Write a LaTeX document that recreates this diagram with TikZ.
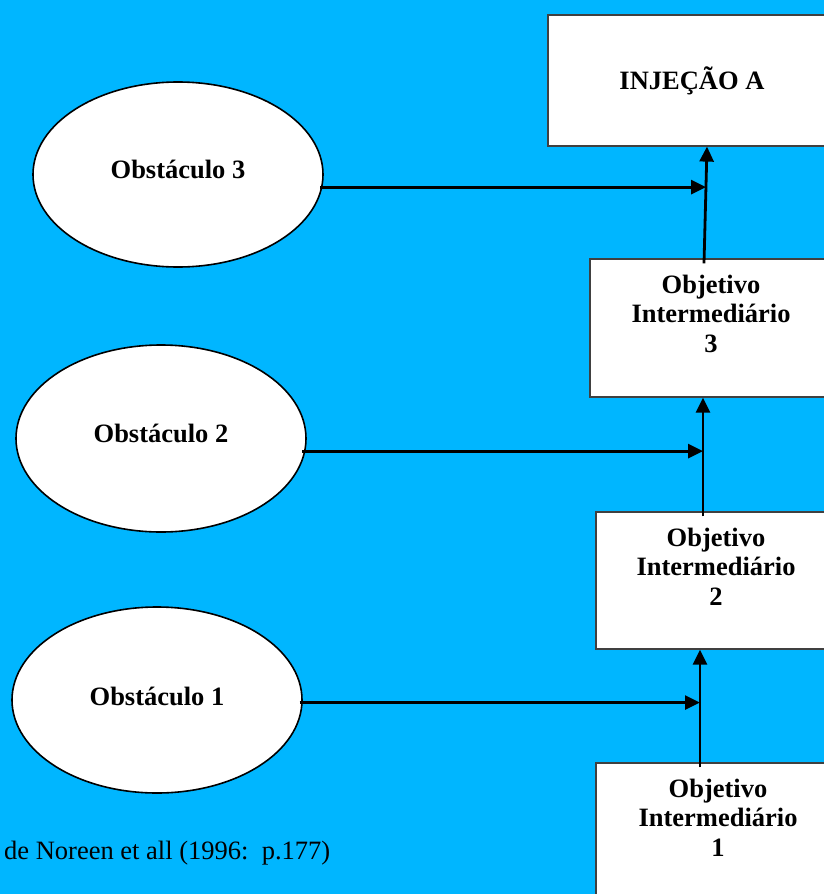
\documentclass[tikz,border=0pt]{standalone}
\usepackage{fontspec}
\setmainfont{Liberation Serif}
\usetikzlibrary{arrows.meta,shapes.geometric}
\definecolor{skyfill}{RGB}{0,182,255}
\definecolor{boxline}{RGB}{64,64,64}
\begin{document}
\begin{tikzpicture}[x=1pt,y=-1pt,
  panel/.style={draw=boxline,line width=1.2pt,fill=white,rectangle,inner sep=0pt},
  oval/.style={draw=black,line width=1.6pt,fill=white,ellipse,inner sep=0pt,minimum width=290pt},
  lbl/.style={font=\fontsize{26.5}{29.5}\selectfont\bfseries,align=center,inner sep=0pt},
  note/.style={font=\fontsize{26.5}{29.5}\selectfont,inner sep=0pt},
  link/.style={draw=black,line width=2.8pt,-{Triangle[length=15pt,width=14pt]}},
]
% canvas
\useasboundingbox (0,0) rectangle (824,894);
\fill[skyfill] (0,0) rectangle (824,894);
\clip (0,0) rectangle (824,894);

% goal and intermediate objectives (running off the right edge)
\node[panel,minimum width=288pt,minimum height=131pt] (inj) at (692,80.5)
  {\fontsize{26.5}{29.5}\selectfont\bfseries INJEÇÃO A};
\node[panel,minimum width=242pt,minimum height=138pt] (o3) at (711,328) {};
\node[panel,minimum width=240pt,minimum height=137pt] (o2) at (716,580.5) {};
\node[panel,minimum width=244pt,minimum height=157pt] (o1) at (718,841.5) {};
\node[lbl,anchor=north] (t3) at ([yshift=-16.5pt]o3.north) {Objetivo\\Intermediário\\3};
\node[lbl,anchor=north] (t2) at ([yshift=-16.5pt]o2.north) {Objetivo\\Intermediário\\2};
\node[lbl,anchor=north] (t1) at ([yshift=-16.5pt]o1.north) {Objetivo\\Intermediário\\1};

% obstacles
\node[oval,minimum height=185pt] (ob3) at (178,174.5) {};
\node[oval,minimum height=187pt] (ob2) at (161,438.5) {};
\node[oval,minimum height=186pt] (ob1) at (157,700) {};
\node[lbl] (l3) at ([yshift=5.5pt]ob3.center) {Obstáculo 3};
\node[lbl] (l2) at ([yshift=5.5pt]ob2.center) {Obstáculo 2};
\node[lbl] (l1) at ([yshift=3.5pt]ob1.center) {Obstáculo 1};

% chain of objectives
\coordinate (s3) at ([xshift=-7pt,yshift=-5pt]o3.north);
\coordinate (e3) at ([xshift=15pt]inj.south);
\coordinate (s2) at ([xshift=-13pt,yshift=-5pt]o2.north);
\coordinate (e2) at ([xshift=-8pt]o3.south);
\coordinate (s1) at ([xshift=-18pt,yshift=-5pt]o1.north);
\coordinate (e1) at ([xshift=-16pt]o2.south);
\draw[link] (s3) -- (e3);
\draw[link] (s2) -- (e2);
\draw[link] (s1) -- (e1);

% obstacles feeding the chain
\coordinate (m3) at (706,189);
\coordinate (m2) at (s2);
\coordinate (m1) at (s1);
\draw[link] ([xshift=-2pt]ob3.-5.8) -- (ob3.-5.8 -| m3);
\draw[link] ([xshift=-3pt]ob2.-5) -- (ob2.-5 -| m2);
\draw[link] ([xshift=-3pt]ob1.-1) -- (ob1.-1 -| m1);

% source
\node[note,anchor=base west] (src) at (4,859) {de Noreen et all (1996:\ \ p.177)};
\end{tikzpicture}
\end{document}
